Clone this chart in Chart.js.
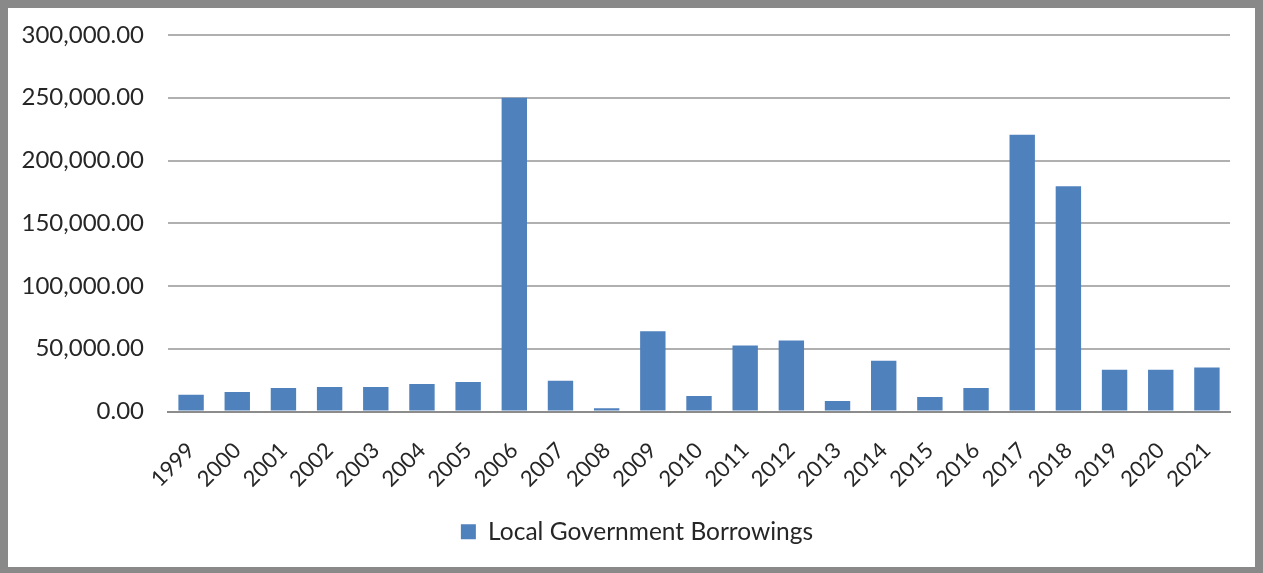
<!DOCTYPE html>
<html>
<head>
<meta charset="utf-8">
<script src="https://cdn.jsdelivr.net/npm/chart.js@4.4.1/dist/chart.umd.min.js"></script>
<style>
  html, body { margin: 0; padding: 0; background: #fff; }
  #frame {
    position: absolute; left: 0; top: 0;
    width: 1247px; height: 559px;
    border-style: solid; border-color: #898989;
    border-width: 8px 8px 6px 8px;
    background: #fff;
  }
  #chart { display: block; }
</style>
</head>
<body>
<div id="frame">
  <canvas id="chart" width="1247" height="559"></canvas>
</div>
<script>
const anos = ["1999","2000","2001","2002","2003","2004","2005","2006","2007","2008","2009",
  "2010","2011","2012","2013","2014","2015","2016","2017","2018","2019","2020","2021"];
const emprestimos = [13400, 15500, 18700, 19500, 19500, 21900, 23500, 250000, 24600, 2600, 63900,
  12300, 52600, 56600, 8300, 40400, 11500, 18700, 220500, 179500, 33200, 33200, 35000];
const nomeSerie = "Local Government Borrowings";
const eixoY = { min: 0, max: 300000, passo: 50000 };

const fonte = "Lato";
const corTexto = "#262626";

// empurra a legenda um pouco pra direita, como no original
const moverLegenda = {
  id: "moverLegenda",
  afterLayout(chart) {
    const leg = chart.legend;
    if (leg) { leg.left += 36; leg.right += 0; }
  }
};

const grafico = new Chart(document.getElementById("chart"), {
  type: "bar",
  data: {
    labels: anos,
    datasets: [{
      label: nomeSerie,
      data: emprestimos,
      backgroundColor: "#4F81BD",
      borderWidth: 0,
      categoryPercentage: 0.55,
      barPercentage: 1.0
    }]
  },
  options: {
    responsive: false,
    animation: false,
    layout: { padding: { top: 27, right: 25, bottom: 13, left: 0 } },
    plugins: {
      tooltip: { enabled: false },
      legend: {
        position: "bottom",
        labels: {
          color: corTexto,
          font: { family: fonte, size: 24.5 },
          boxWidth: 15,
          boxHeight: 15,
          padding: 10
        }
      }
    },
    scales: {
      x: {
        grid: { display: false, drawTicks: false },
        border: { color: "#8c8c8c", width: 2 },
        ticks: {
          color: corTexto,
          font: { family: fonte, size: 22 },
          maxRotation: 45, minRotation: 45,
          padding: 26
        },
        afterFit: s => { s.height = 98; s.paddingLeft = 0; s.paddingRight = 0; }
      },
      y: {
        min: eixoY.min,
        max: eixoY.max,
        grid: {
          color: "#b0b0b0", lineWidth: 2, drawTicks: false
        },
        border: { display: false },
        ticks: {
          stepSize: eixoY.passo,
          color: corTexto,
          font: { family: fonte, size: 24 },
          padding: 24,
          callback: v => v.toLocaleString("en-US", { minimumFractionDigits: 2, maximumFractionDigits: 2 })
        },
        afterFit: s => { s.width = 160; s.paddingTop = 0; s.paddingBottom = 0; }
      }
    }
  },
  plugins: [moverLegenda]
});
</script>
</body>
</html>
